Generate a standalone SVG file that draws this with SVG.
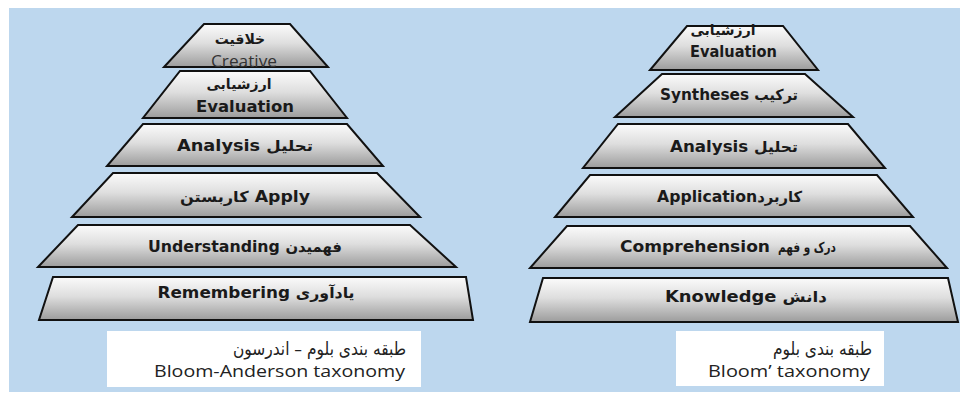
<svg xmlns="http://www.w3.org/2000/svg" width="960" height="394" viewBox="0 0 960 394">
<defs>
<linearGradient id="g" x1="0" y1="0" x2="0" y2="1">
<stop offset="0" stop-color="#fbfbfb"/>
<stop offset="0.45" stop-color="#dedede"/>
<stop offset="1" stop-color="#9c9c9c"/>
</linearGradient>
<style>
.tr{fill:url(#g);stroke:#111;stroke-width:2;stroke-linejoin:miter}
.lb{font-family:"DejaVu Sans",sans-serif;font-size:16px;font-weight:bold;fill:#1a1a1a;text-anchor:middle}
.fa{font-family:"DejaVu Sans",sans-serif;font-size:15px;font-weight:bold;fill:#1a1a1a}
.fao{font-family:"DejaVu Sans",sans-serif;font-size:14px;font-weight:bold;fill:#1a1a1a;text-anchor:middle}
.cr{font-family:"Open Sans","Liberation Sans",sans-serif;font-size:16px;fill:#333;text-anchor:middle}
.box{fill:#ffffff}
.en{font-family:"Open Sans","Liberation Sans",sans-serif;font-size:17px;fill:#222;text-anchor:middle}
.ft{font-family:"DejaVu Sans",sans-serif;font-size:18px;fill:#222;text-anchor:middle}
</style>
</defs>
<rect x="9" y="8" width="951" height="384" fill="#bdd7ee"/>

<g id="left-creative">
<polygon class="tr" points="204,24 290,24 328,67 164,67"/>
<text class="fao" x="240" y="44">خلاقیت</text>
<text class="cr" x="244" y="67" textLength="66" lengthAdjust="spacingAndGlyphs">Creative</text>
</g>
<g id="left-evaluation">
<polygon class="tr" points="180,71 310,71 347,118 143,118"/>
<text class="fao" x="239" y="89">ارزشیابی</text>
<text class="lb" x="245" y="112" textLength="98" lengthAdjust="spacingAndGlyphs">Evaluation</text>
</g>
<g id="left-analysis">
<polygon class="tr" points="143,124 347,124 383,166 107,166"/>
<text class="lb" x="245" y="151" textLength="136" lengthAdjust="spacingAndGlyphs">Analysis  <tspan class="fa">تحلیل</tspan></text>
</g>
<g id="left-apply">
<polygon class="tr" points="113,173 377,173 420,217 72,217"/>
<text class="lb" x="245" y="202" textLength="130" lengthAdjust="spacingAndGlyphs"><tspan class="fa">کاربستن</tspan> Apply</text>
</g>
<g id="left-understanding">
<polygon class="tr" points="78,225 410,225 456,267 38,267"/>
<text class="lb" x="245" y="252" textLength="194" lengthAdjust="spacingAndGlyphs">Understanding <tspan class="fa">فهمیدن</tspan></text>
</g>
<g id="left-remembering">
<polygon class="tr" points="53,277 466,277 473,320 39,320"/>
<text class="lb" x="256" y="298" textLength="197" lengthAdjust="spacingAndGlyphs">Remembering <tspan class="fa">یادآوری</tspan></text>
</g>
<g id="left-caption">
<rect class="box" x="107" y="331" width="314" height="56"/>
<text class="ft" x="319.5" y="355" textLength="173" lengthAdjust="spacingAndGlyphs">طبقه بندی بلوم – اندرسون</text>
<text class="en" x="279.5" y="377" textLength="251" lengthAdjust="spacingAndGlyphs">Bloom-Anderson taxonomy</text>
</g>

<g id="right-evaluation">
<polygon class="tr" points="687,26 783,26 818,70 650,70"/>
<text class="fao" x="723" y="35">ارزشیابی</text>
<text class="lb" x="733.5" y="57" textLength="87" lengthAdjust="spacingAndGlyphs">Evaluation</text>
</g>
<g id="right-syntheses">
<polygon class="tr" points="662,74 805,74 853,117 615,117"/>
<text class="lb" x="729" y="100" textLength="138" lengthAdjust="spacingAndGlyphs">Syntheses <tspan class="fa">ترکیب</tspan></text>
</g>
<g id="right-analysis">
<polygon class="tr" points="618,124 848,124 885,168 583,168"/>
<text class="lb" x="734" y="152" textLength="128" lengthAdjust="spacingAndGlyphs">Analysis <tspan class="fa">تحلیل</tspan></text>
</g>
<g id="right-application">
<polygon class="tr" points="590,175 877,175 913,217 555,217"/>
<text class="lb" x="729.5" y="202" textLength="145" lengthAdjust="spacingAndGlyphs">Application<tspan class="fa">کاربرد</tspan></text>
</g>
<g id="right-comprehension">
<polygon class="tr" points="567,226 910,226 947,268 530,268"/>
<text class="lb" x="695" y="252" textLength="150" lengthAdjust="spacingAndGlyphs">Comprehension</text>
<text class="fao" x="807" y="252" font-size="15" textLength="58" lengthAdjust="spacingAndGlyphs">درک و فهم</text>
</g>
<g id="right-knowledge">
<polygon class="tr" points="543,278 948,278 958,322 530,322"/>
<text class="lb" x="746" y="302" textLength="162" lengthAdjust="spacingAndGlyphs">Knowledge  <tspan class="fa">دانش</tspan></text>
</g>
<g id="right-caption">
<rect class="box" x="676" y="331" width="208" height="55"/>
<text class="ft" x="822.5" y="355" textLength="99" lengthAdjust="spacingAndGlyphs">طبقه بندی بلوم</text>
<text class="en" x="789" y="377" textLength="162" lengthAdjust="spacingAndGlyphs">Bloom’ taxonomy</text>
</g>
</svg>
